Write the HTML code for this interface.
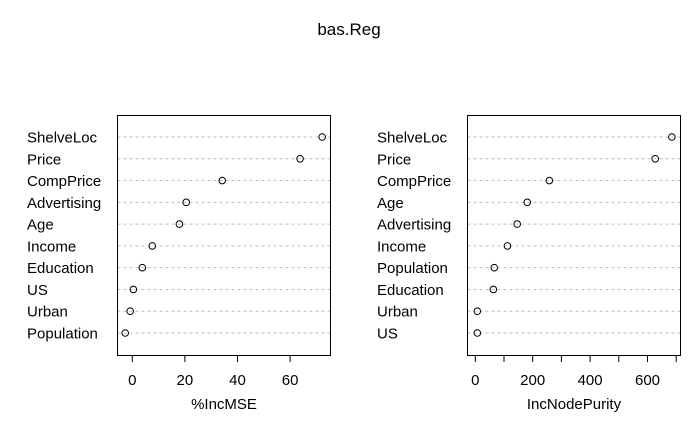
<!DOCTYPE html>
<html><head><meta charset="utf-8"><style>
body{margin:0;background:#fff}
svg{display:block;font-family:"Liberation Sans",Arial,sans-serif}
</style></head><body>
<svg id="chart" width="700" height="432" xmlns="http://www.w3.org/2000/svg">
<text x="349" y="35" font-size="17" text-anchor="middle">bas.Reg</text>
</svg>
<script>
const leftCategories=["ShelveLoc","Price","CompPrice","Advertising","Age","Income","Education","US","Urban","Population"];
const leftValues=[72.2,63.8,34.2,20.5,17.9,7.6,3.8,0.4,-0.8,-2.7];
const leftTicks=[0,20,40,60];
const rightCategories=["ShelveLoc","Price","CompPrice","Age","Advertising","Income","Population","Education","Urban","US"];
const rightValues=[685,627,258,181,146,112,66,63,7,7];
const rightTicks=[0,100,200,300,400,500,600,700];
const rightTickLabels=["0","","200","","400","","600",""];

const svg=document.getElementById('chart');
const NS="http://www.w3.org/2000/svg";
function mk(tag,attrs,parent){const e=document.createElementNS(NS,tag);for(const k in attrs)e.setAttribute(k,attrs[k]);(parent||svg).appendChild(e);return e;}

function panel(cfg){
  const g=mk('g',{});
  
  
  const yRow=i=>137+i*(333-137)/9;
  const x=v=>cfg.x0+v*cfg.scale;
  cfg.cats.forEach((c,i)=>{
    const y=yRow(i);
    const ln=mk('line',{x1:cfg.left,x2:cfg.right,y1:y,y2:y,stroke:'#bebebe','stroke-dasharray':'3,3','stroke-width':1},g);
    
    
    const t=mk('text',{x:cfg.labelX,y:y+5.5,'font-size':15},g);
    t.textContent=c;
    
    
    const p=mk('circle',{cx:x(cfg.vals[i]),cy:y,r:3.3,fill:'none',stroke:'#000','stroke-width':1},g);
    
    
  });
  const box=mk('rect',{x:cfg.left,y:115.5,width:cfg.right-cfg.left,height:240,fill:'none',stroke:'#000','stroke-width':1},g);
  
  
  cfg.ticks.forEach((v,i)=>{
    const tx=x(v);
    const tk=mk('line',{x1:tx,x2:tx,y1:355.5,y2:362,stroke:'#000'},g);
    
    
    const lab=cfg.tickLabels?cfg.tickLabels[i]:String(v);
    if(lab){
      const t=mk('text',{x:tx,y:385,'font-size':15,'text-anchor':'middle'},g);
      t.textContent=lab;
      
      
    }
  });
  const at=mk('text',{x:(cfg.left+cfg.right)/2,y:409,'font-size':15,'text-anchor':'middle'},g);
  at.textContent=cfg.title;
  
  
}
panel({name:'incmse-panel',cats:leftCategories,vals:leftValues,ticks:leftTicks,left:117.5,right:330.5,x0:132.3,scale:2.63,labelX:27,title:'%IncMSE'});
panel({name:'incnodepurity-panel',cats:rightCategories,vals:rightValues,ticks:rightTicks,tickLabels:rightTickLabels,left:467.5,right:680.5,x0:475.3,scale:0.287,labelX:377,title:'IncNodePurity'});
</script>
</body></html>
